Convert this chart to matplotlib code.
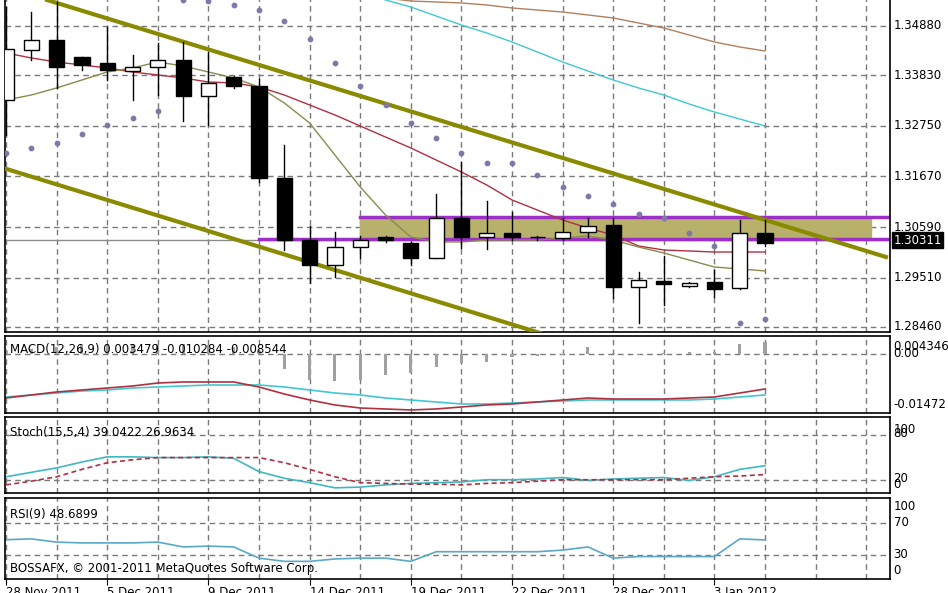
import matplotlib
matplotlib.use("Agg")
import matplotlib.pyplot as plt
import numpy as np

# ---------------- data ----------------
opens  = [1.33302,1.34368,1.34582,1.34219,1.34091,1.33920,1.34006,1.34155,1.33387,1.33792,1.33600,
          1.31638,1.30315,1.29782,1.30166,1.30379,1.30252,1.29931,1.30785,1.30379,1.30465,1.30369,
          1.30358,1.30486,1.30635,1.29313,1.29441,1.29334,1.29420,1.29292,1.30465]
highs  = [1.35285,1.35179,1.35392,1.34219,1.34859,1.34262,1.34517,1.34539,1.34326,1.33814,1.33750,
          1.32342,1.30614,1.30486,1.30401,1.30401,1.30273,1.31297,1.31979,1.31147,1.30913,1.30401,
          1.30785,1.30785,1.30785,1.29633,1.29974,1.29420,1.29676,1.30742,1.30742]
lows   = [1.32555,1.34155,1.33558,1.33942,1.33728,1.33302,1.33408,1.32854,1.32768,1.33558,1.31553,
          1.30102,1.29398,1.29526,1.29931,1.30273,1.29782,1.29931,1.30145,1.30123,1.30315,1.30315,
          1.30315,1.30379,1.29078,1.28545,1.28929,1.29313,1.29100,1.29270,1.30188]
closes = [1.34390,1.34582,1.34006,1.34048,1.33942,1.34006,1.34155,1.33387,1.33664,1.33600,1.31638,
          1.30315,1.29782,1.30166,1.30315,1.30315,1.29931,1.30785,1.30379,1.30465,1.30379,1.30369,
          1.30486,1.30614,1.29313,1.29462,1.29377,1.29398,1.29270,1.30465,1.30252]
ma_red = [1.34305,1.34198,1.34112,1.34048,1.33985,1.33899,1.33835,1.33771,1.33686,1.33664,1.33579,
          1.33408,1.33195,1.32982,1.32747,1.32512,1.32278,1.32022,1.31766,1.31489,1.31169,1.30955,
          1.30742,1.30571,1.30422,1.30188,1.30102,1.30081,1.30059,1.30059,1.30059]
ma_olive = [1.33302,1.33408,1.33558,1.33728,1.33899,1.33985,1.34112,1.34027,1.33899,1.33771,1.33579,
            1.33238,1.32811,1.32128,1.31446,1.30849,1.30379,1.30273,1.30273,1.30315,1.30315,1.30315,
            1.30358,1.30401,1.30315,1.30166,1.30038,1.29889,1.29739,1.29697,1.29655]
ma_cyan_start = 14
ma_cyan = [1.35605,1.35435,1.35285,1.35093,1.34901,1.34731,1.34539,1.34326,1.34112,1.33920,1.33728,
           1.33558,1.33408,1.33216,1.33046,1.32896,1.32747]
ma_brown_start = 15
ma_brown = [1.35477,1.35413,1.35392,1.35371,1.35328,1.35264,1.35221,1.35178,1.35115,1.35051,1.34944,
            1.34837,1.34688,1.34539,1.34432,1.34347]
sar = [1.32171,1.32278,1.32384,1.32576,1.32768,1.32918,1.33067,1.35435,1.35413,1.35328,1.35221,
       1.34987,1.34603,1.34091,1.33600,1.33195,1.32811,1.32491,1.32171,1.31958,1.31958,1.31702,
       1.31446,1.31254,1.31083,1.30870,1.30785,1.30465,1.30188,1.28545,1.28621]
upper_line = ([1.62, 34.78], [1.35435, 1.29953])
lower_line = ([-0.24, 21.1], [1.31873, 1.28332])
zone_top, zone_bot = 1.30806, 1.30330
zone_x = (14, 34.2)
bid = 1.30311

macd_hist = [0.0010,0.0015,0.0020,0.0025,0.0028,0.0030,0.0030,0.0028,0.0025,0.0020,0.0010,
             -0.0044,-0.0077,-0.0079,-0.0077,-0.0062,-0.0056,-0.0038,-0.0026,-0.0024,-0.0009,-0.0006,
             -0.0003,0.0021,0.0003,-0.0003,0.0003,0.0005,0.0005,0.0029,0.0035]
macd_cyan = [-0.01264,-0.01205,-0.01147,-0.01088,-0.01058,-0.01000,-0.00970,-0.00941,-0.00911,-0.00911,-0.00911,
             -0.00970,-0.01058,-0.01147,-0.01205,-0.01294,-0.01352,-0.01411,-0.01470,-0.01470,-0.01441,-0.01411,
             -0.01382,-0.01352,-0.01352,-0.01352,-0.01352,-0.01352,-0.01323,-0.01264,-0.01205]
macd_red = [-0.01294,-0.01205,-0.01117,-0.01058,-0.01000,-0.00941,-0.00853,-0.00823,-0.00823,-0.00823,-0.00970,
            -0.01176,-0.01352,-0.01499,-0.01588,-0.01617,-0.01646,-0.01617,-0.01558,-0.01499,-0.01470,-0.01411,
            -0.01352,-0.01294,-0.01323,-0.01323,-0.01323,-0.01294,-0.01264,-0.01147,-0.01029]
stoch_main = [24,30,36,44,51,51,50,50,51,49,31,22,16,9,10,13,15,16,17,20,20,21,23,19,21,22,23,19,24,34,39]
stoch_sig  = [13,18,24,34,43,47,50,50,50,50,50,43,34,24,16,15,14,14,13,15,16,18,20,20,20,20,20,22,24,25,27]
rsi = [49,50,46,45,45,45,46,40,41,40,26,22,22,25,26,26,22,34,34,34,34,34,36,40,26,28,28,28,28,50,48.7]

price_ticks = [1.34880,1.33830,1.32750,1.31670,1.30590,1.29510,1.28460]
date_pos = [0,4,8,12,16,20,24,28]
date_labels = ["28 Nov 2011","5 Dec 2011","9 Dec 2011","14 Dec 2011","19 Dec 2011",
               "22 Dec 2011","28 Dec 2011","3 Jan 2012"]

# ---------------- figure ----------------
W, H = 948, 593
fig = plt.figure(figsize=(W/100, H/100), dpi=100)
plt.rcParams['font.family'] = 'DejaVu Sans'

def rect(top, bot, l=5, r=890):
    return [l/W, 1-bot/H, (r-l)/W, (bot-top)/H]

ax = fig.add_axes(rect(-2, 332))
axm = fig.add_axes(rect(336, 413))
axs = fig.add_axes(rect(417, 493))
axr = fig.add_axes(rect(498, 579))
XL = (-0.04, 34.94)
gridkw = dict(color='#7a7a7a', lw=1.0, ls=(0, (4, 3)))
fs = 8.5

for a in (ax, axm, axs, axr):
    a.set_xlim(*XL)
    a.set_xticks([])
    a.set_yticks([])
    for s in a.spines.values():
        s.set_color('black'); s.set_linewidth(1.2)
    for gx in range(0, 36, 2):
        a.axvline(gx, zorder=0, **gridkw)

# main
ax.set_ylim(1.28353, 1.35477)
for p in price_ticks:
    ax.axhline(p, zorder=0, **gridkw)
    ax.text(1.004, p, f"{p:.5f}", transform=ax.get_yaxis_transform(), va='center', ha='left', fontsize=fs)
ax.spines['top'].set_visible(False)
n = len(opens)
x = np.arange(n)
ax.fill_between([zone_x[0], zone_x[1]], zone_bot, zone_top, color='#b7b16c', zorder=1)
ax.plot([14, 34.94], [zone_top, zone_top], color='#9b2fc8', lw=2.5, zorder=2)
ax.plot([10, 34.94], [zone_bot, zone_bot], color='#9b2fc8', lw=2.5, zorder=2)
ax.axhline(bid, color='#8c8c8c', lw=1, zorder=1)
ax.plot(*upper_line, color='#8a8a00', lw=3, zorder=3)
ax.plot(*lower_line, color='#8a8a00', lw=3, zorder=3)
ax.plot(x, ma_red, color='#b03040', lw=1, zorder=4)
ax.plot(x, ma_olive, color='#8a8a50', lw=1, zorder=4)
ax.plot(np.arange(ma_cyan_start, ma_cyan_start+len(ma_cyan)), ma_cyan, color='#40c8d0', lw=1, zorder=4)
ax.plot(np.arange(ma_brown_start, ma_brown_start+len(ma_brown)), ma_brown, color='#b08060', lw=1, zorder=4)
ax.scatter(x, sar, s=10, color='#8078a8', zorder=4)
for i in range(n):
    o, h, l, c = opens[i], highs[i], lows[i], closes[i]
    ax.plot([i, i], [l, h], color='black', lw=1, zorder=5)
    bot, top = min(o, c), max(o, c)
    hh = max(top-bot, 0.00012)
    ax.add_patch(plt.Rectangle((i-0.3, bot), 0.6, hh, facecolor='black' if c < o else 'white',
                               edgecolor='black', lw=1, zorder=6))
ax.text(1.004, bid, "1.30311", transform=ax.get_yaxis_transform(), va='center', ha='left',
        fontsize=fs, color='white', bbox=dict(boxstyle='square,pad=0.12', fc='black', ec='black'))

# MACD
axm.set_ylim(-0.01735, 0.00529)
axm.axhline(0, zorder=0, **gridkw)
axm.bar(x, macd_hist, width=0.12, color='#a0a0a0', zorder=1)
axm.plot(x, macd_cyan, color='#40c8d0', lw=1.2, zorder=2)
axm.plot(x, macd_red, color='#b03040', lw=1.2, zorder=2)
axm.text(0.006, 0.82, "MACD(12,26,9) 0.003479 -0.010284 -0.008544", transform=axm.transAxes,
         fontsize=fs, va='center', zorder=5)
t = axm.get_yaxis_transform()
axm.text(1.004, 0.0022, "0.004346", transform=t, fontsize=fs, va='center')
axm.text(1.004, 0.0, "0.00", transform=t, fontsize=fs, va='center')
axm.text(1.004, -0.01472, "-0.01472", transform=t, fontsize=fs, va='center')

# Stoch
axs.set_ylim(2, 105)
for v in (80, 20):
    axs.axhline(v, zorder=0, **gridkw)
axs.plot(x, stoch_main, color='#40b8c0', lw=1.2)
axs.plot(x, stoch_sig, color='#b03040', lw=1.2, ls=(0, (3, 2)))
axs.text(0.006, 0.80, "Stoch(15,5,4) 39.0422 26.9634", transform=axs.transAxes, fontsize=fs, va='center')
t = axs.get_yaxis_transform()
for v, lab in ((88, "100"), (82, "80"), (22, "20"), (14, "0")):
    axs.text(1.004, v, lab, transform=t, fontsize=fs, va='center')

# RSI
axr.set_ylim(0, 101)
for v in (70, 30):
    axr.axhline(v, zorder=0, **gridkw)
axr.plot(x, rsi, color='#5aa8c8', lw=1.2)
axr.text(0.006, 0.80, "RSI(9) 48.6899", transform=axr.transAxes, fontsize=fs, va='center')
axr.text(0.006, 0.13, "BOSSAFX, \u00a9 2001-2011 MetaQuotes Software Corp.", transform=axr.transAxes,
         fontsize=fs, va='center')
t = axr.get_yaxis_transform()
for v, lab in ((90, "100"), (70, "70"), (30, "30"), (10, "0")):
    axr.text(1.004, v, lab, transform=t, fontsize=fs, va='center')
axr.set_xticks(date_pos)
axr.set_xticklabels(date_labels, ha='left', fontsize=fs)
axr.tick_params(axis='x', length=4, pad=1)

fig.savefig("out.png", dpi=100)
